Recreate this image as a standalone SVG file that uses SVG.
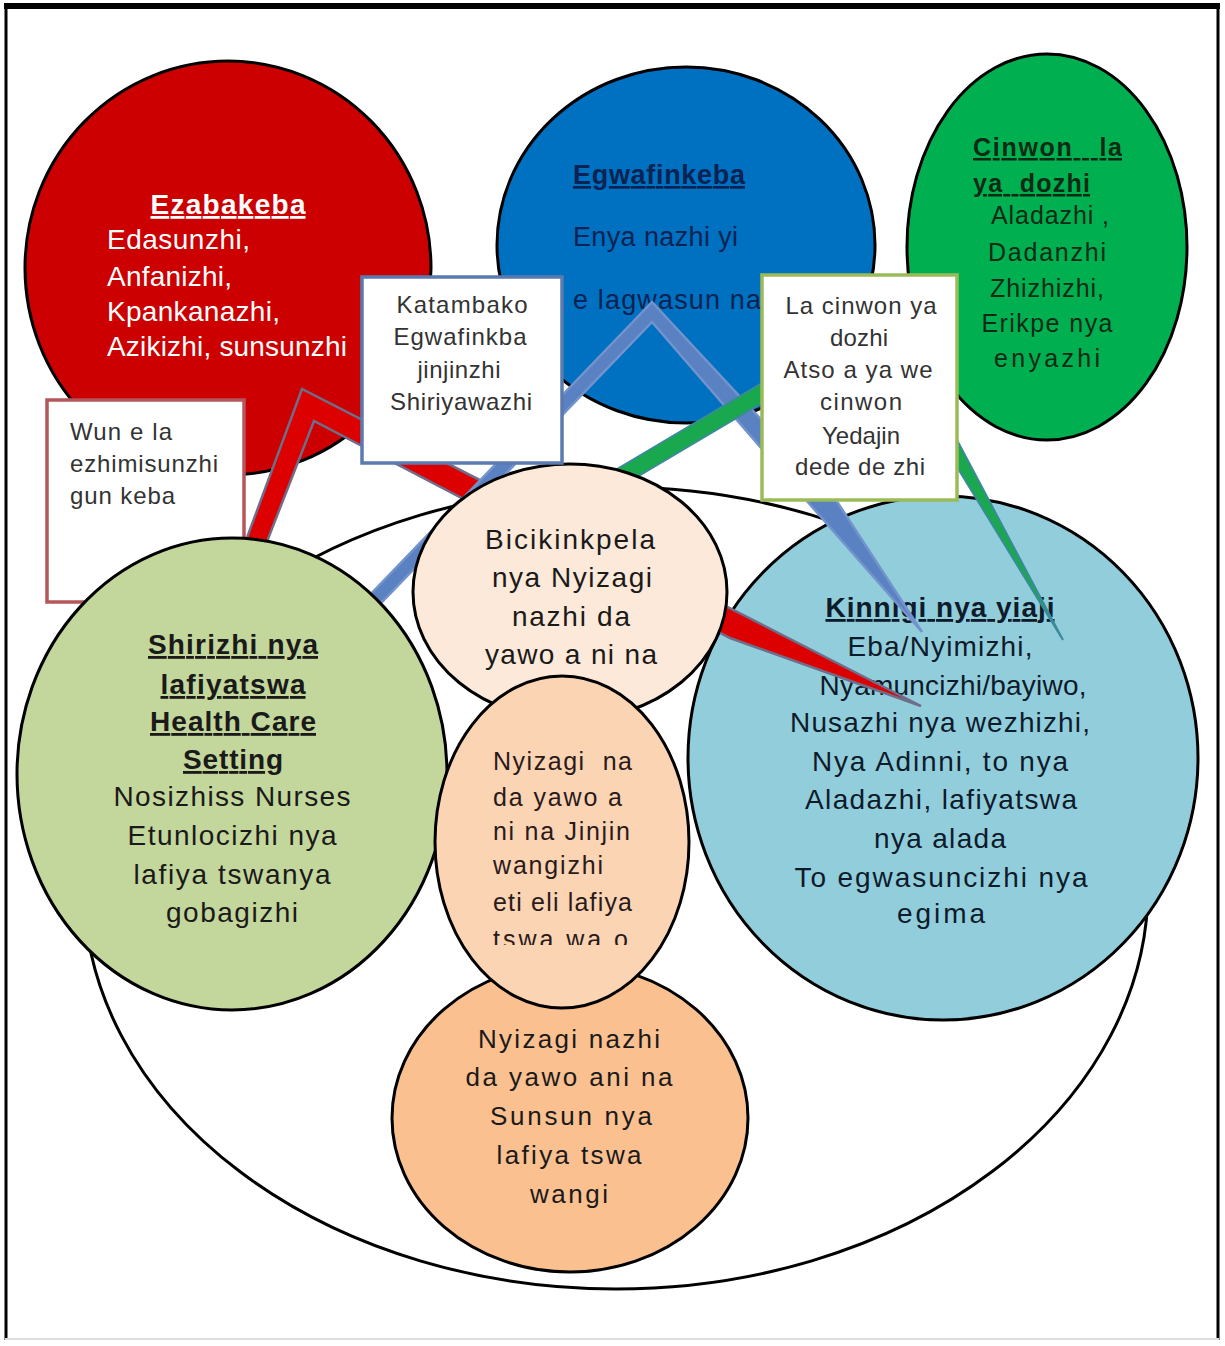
<svg xmlns="http://www.w3.org/2000/svg" width="1225" height="1346" viewBox="0 0 1225 1346">
<style>
text{font-family:"Liberation Sans",Arial,sans-serif}
.c{stroke:#000;stroke-width:3}
.m{text-anchor:middle}
.b{font-weight:bold}
.u{text-decoration:underline}
.w{fill:#ffffff;font-size:28px}
.bl{fill:#0b2352;font-size:27px}
.gr{fill:#0f2a14;font-size:25px}
.bx{fill:#333333;font-size:24px}
.dk{fill:#1a1a1a}
.box{fill:#ffffff;stroke-width:3.5}
</style>
<defs>
<clipPath id="midclip"><rect x="430" y="680" width="270" height="265"/></clipPath>
</defs>
<rect x="0" y="0" width="1225" height="1346" fill="#ffffff"/>
<g id="frame">
<line x1="4" y1="6" x2="1220" y2="6" stroke="#000" stroke-width="6"/>
<line x1="6" y1="5" x2="6" y2="1340" stroke="#000" stroke-width="3"/>
<line x1="1218" y1="5" x2="1218" y2="1340" stroke="#000" stroke-width="3"/>
<line x1="5" y1="1339" x2="1219" y2="1339" stroke="#dddddd" stroke-width="2"/>
</g>
<g id="outer">
<ellipse cx="616" cy="888" rx="532" ry="401" fill="#ffffff" class="c"/>
</g>
<g id="ezabakeba">
<ellipse cx="228" cy="268" rx="203" ry="207" fill="#cc0000" class="c"/>
<text class="w b u m" x="228" y="214" textLength="155">Ezabakeba</text>
<text class="w" x="107" y="249" textLength="143">Edasunzhi,</text>
<text class="w" x="107" y="286" textLength="125">Anfanizhi,</text>
<text class="w" x="107" y="321" textLength="173">Kpankanazhi,</text>
<text class="w" x="107" y="356" textLength="240">Azikizhi, sunsunzhi</text>
</g>
<g id="egwafinkeba">
<ellipse cx="686" cy="245" rx="189" ry="178" fill="#0070c0" class="c"/>
<text class="bl b u" x="573" y="184" textLength="172">Egwafinkeba</text>
<text class="bl" x="573" y="246" textLength="165">Enya nazhi yi</text>
<text class="bl" x="573" y="309" textLength="188">e lagwasun na</text>
</g>
<g id="cinwon">
<ellipse cx="1047" cy="247" rx="140" ry="193" fill="#00b050" class="c"/>
<text class="gr b u" x="973" y="156" textLength="149" xml:space="preserve">Cinwon   la</text>
<text class="gr b u" x="973" y="192" textLength="117" xml:space="preserve">ya  dozhi</text>
<text class="gr m" x="1050" y="224" textLength="118">Aladazhi ,</text>
<text class="gr m" x="1047" y="261" textLength="118">Dadanzhi</text>
<text class="gr m" x="1047" y="297" textLength="114">Zhizhizhi,</text>
<text class="gr m" x="1047" y="332" textLength="131">Erikpe nya</text>
<text class="gr m" x="1047" y="367" textLength="106">enyazhi</text>
</g>
<g id="kinnigi">
<ellipse cx="943" cy="758" rx="255" ry="262" fill="#92cddc" class="c"/>
<g fill="#0d1b2a" font-size="28">
<text class="b u m" x="940" y="617" textLength="229">Kinnigi nya yiaji</text>
<text class="m" x="940" y="656" textLength="185">Eba/Nyimizhi,</text>
<text class="m" x="953" y="695" textLength="267">Nyamuncizhi/bayiwo,</text>
<text class="m" x="940" y="732" textLength="300">Nusazhi nya wezhizhi,</text>
<text class="m" x="940" y="771" textLength="256">Nya Adinni, to nya</text>
<text class="m" x="941" y="809" textLength="272">Aladazhi, lafiyatswa</text>
<text class="m" x="940" y="848" textLength="132">nya alada</text>
<text class="m" x="941" y="887" textLength="293">To egwasuncizhi nya</text>
<text class="m" x="941" y="923" textLength="88">egima</text>
</g>
</g>
<g id="connectors">
<polygon points="238,562 302,389 921,706 730,638 314,421 259,562" fill="#dd0000" stroke="#6e6e8a" stroke-width="2.5" stroke-linejoin="miter"/>
<polygon points="338,628 652,302 836,500 922,632 806,500 652,322 357,628" fill="#5a82c2" stroke="#7393cc" stroke-width="2.5"/>
<polygon points="612,472 762,383 880,305 957,440 1063,640 957,467 880,335 762,403 625,484" fill="#1aa84e" stroke="#3a8a9a" stroke-width="2"/>
</g>
<g id="wun">
<rect class="box" x="47" y="400" width="197" height="202" stroke="#b4565a"/>
<g class="bx">
<text x="70" y="440" textLength="102">Wun e la</text>
<text x="70" y="472" textLength="148">ezhimisunzhi</text>
<text x="70" y="504" textLength="105">gun keba</text>
</g>
</g>
<g id="shirizhi">
<ellipse cx="232" cy="774" rx="215" ry="236" fill="#c3d69b" class="c"/>
<g class="dk" font-size="28">
<text class="b u m" x="233" y="654" textLength="170">Shirizhi nya</text>
<text class="b u m" x="233" y="694" textLength="145">lafiyatswa</text>
<text class="b u m" x="233" y="731" textLength="166">Health Care</text>
<text class="b u m" x="233" y="769" textLength="100">Setting</text>
<text class="m" x="232" y="806" textLength="237">Nosizhiss Nurses</text>
<text class="m" x="232" y="845" textLength="209">Etunlocizhi nya</text>
<text class="m" x="232" y="884" textLength="197">lafiya tswanya</text>
<text class="m" x="232" y="922" textLength="132">gobagizhi</text>
</g>
</g>
<g id="sunsun">
<ellipse cx="570" cy="1118" rx="178" ry="154" fill="#fac090" class="c"/>
<g class="dk" font-size="26">
<text class="m" x="569" y="1048" textLength="182">Nyizagi nazhi</text>
<text class="m" x="569" y="1086" textLength="207">da yawo ani na</text>
<text class="m" x="571" y="1125" textLength="162">Sunsun nya</text>
<text class="m" x="569" y="1164" textLength="145">lafiya tswa</text>
<text class="m" x="569" y="1203" textLength="78">wangi</text>
</g>
</g>
<g id="bicikinkpela">
<ellipse cx="570" cy="592" rx="157" ry="128" fill="#fde9d9" class="c"/>
<g class="dk" font-size="28">
<text class="m" x="570" y="549" textLength="170">Bicikinkpela</text>
<text class="m" x="572" y="587" textLength="160">nya Nyizagi</text>
<text class="m" x="571" y="626" textLength="118">nazhi da</text>
<text class="m" x="571" y="664" textLength="172">yawo a ni na</text>
</g>
</g>
<g id="jinjin">
<ellipse cx="562" cy="842" rx="127" ry="166" fill="#fbd4b4" class="c"/>
<g fill="#2a1a1a" font-size="25" clip-path="url(#midclip)">
<text x="493" y="770" textLength="139" xml:space="preserve">Nyizagi  na</text>
<text x="493" y="806" textLength="129">da yawo a</text>
<text x="493" y="840" textLength="137">ni na Jinjin</text>
<text x="493" y="874" textLength="110">wangizhi</text>
<text x="493" y="911" textLength="139">eti eli lafiya</text>
<text x="493" y="948" textLength="135">tswa wa o</text>
</g>
</g>
<g id="katambako">
<rect class="box" x="362" y="277" width="200" height="186" stroke="#5b7bb0"/>
<g class="bx">
<text class="m" x="462" y="313" textLength="131">Katambako</text>
<text class="m" x="460" y="345" textLength="133">Egwafinkba</text>
<text class="m" x="459" y="378" textLength="83">jinjinzhi</text>
<text class="m" x="461" y="410" textLength="142">Shiriyawazhi</text>
</g>
</g>
<g id="lacinwon">
<rect class="box" x="762" y="275" width="195" height="225" stroke="#9bbb59"/>
<g class="bx">
<text class="m" x="861" y="314" textLength="151">La cinwon ya</text>
<text class="m" x="859" y="346" textLength="58">dozhi</text>
<text class="m" x="858" y="378" textLength="149">Atso a ya we</text>
<text class="m" x="861" y="410" textLength="82">cinwon</text>
<text class="m" x="861" y="444" textLength="78">Yedajin</text>
<text class="m" x="860" y="475" textLength="130">dede de zhi</text>
</g>
</g>
</svg>
